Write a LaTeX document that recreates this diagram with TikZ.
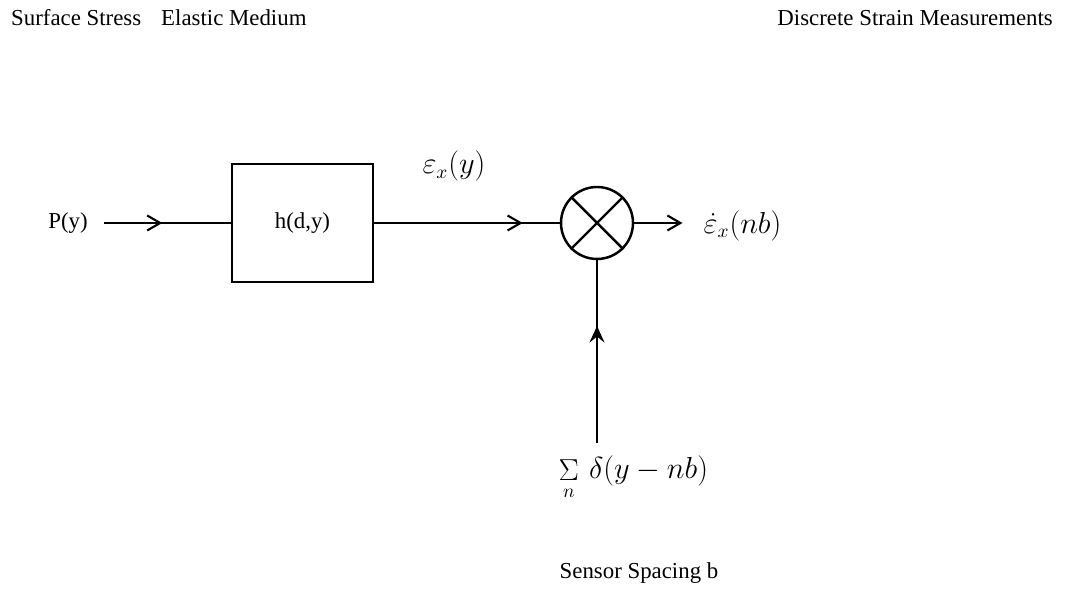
\documentclass[tikz,border=0pt]{standalone}
\usepackage{amsmath,amssymb}
\usepackage{fontspec}
\setmainfont{Liberation Serif}
\usetikzlibrary{positioning,calc,arrows.meta,decorations.markings}

\tikzset{
  sig/.style={line width=1.3pt},
  barb/.tip={Straight Barb[length=2.6mm,width=3mm,line width=1.2pt]},
  midarrow/.style={sig, postaction={decorate},
    decoration={markings, mark=at position #1 with {\arrow{barb}}}},
  uparrow/.style={sig, postaction={decorate},
    decoration={markings, mark=at position #1 with {\arrow{Stealth[length=3.3mm,width=3mm,inset=1.2mm]}}}},
  blockbox/.style={draw, line width=1.5pt, minimum width=2.82cm, minimum height=2.36cm},
  mixer/.style={draw, circle, line width=1.4pt, minimum size=1.44cm, inner sep=0pt},
  mathlbl/.style={font=\fontsize{16}{18}\selectfont},
}

\begin{document}
\begin{tikzpicture}[font=\fontsize{13}{15}\selectfont]
  \useasboundingbox (0,0) rectangle (21.3,11.96);

  % Headings
  \node[anchor=west] (hstress) at (0.1, 11.6) {Surface Stress};
  \node[anchor=west] (hmedium) at (3.1, 11.6) {Elastic Medium};
  \node[anchor=east] (hmeas) at (21.18, 11.6) {Discrete Strain Measurements};

  % Blocks
  \node (py) at (1.36, 7.5) {P(y)};
  \node[blockbox] (hdy) at (6.05, 7.5) {h(d,y)};
  \node[mixer] (mult) at (11.94, 7.5) {};
  \draw[line width=1.4pt] (mult.north east) -- (mult.south west);
  \draw[line width=1.4pt] (mult.north west) -- (mult.south east);

  % Labels
  \node[mathlbl] (strain) at (9.08, 8.64) {$\varepsilon_x(y)$};
  \node[mathlbl, anchor=west] (samp) at (13.95, 7.45) {$\dot{\varepsilon}_x(nb)$};
  \node[mathlbl, anchor=west] (comb) at (11.05, 2.4) {$\mathop{\Sigma}\limits_{n}\,\delta(y-nb)$};
  \node (spacing) at (12.78, 0.5) {Sensor Spacing b};
  \coordinate (sens) at (11.94, 3.1);

  % Signal paths
  \draw[midarrow=0.5, shorten <=0.2cm] (py) -- (hdy);
  \draw[midarrow=0.8] (hdy) -- (mult);
  \draw[sig, -{barb}, shorten >=0.3cm] (mult) -- (samp.west |- mult);
  \draw[uparrow=0.64] (sens) -- (mult);
\end{tikzpicture}
\end{document}
